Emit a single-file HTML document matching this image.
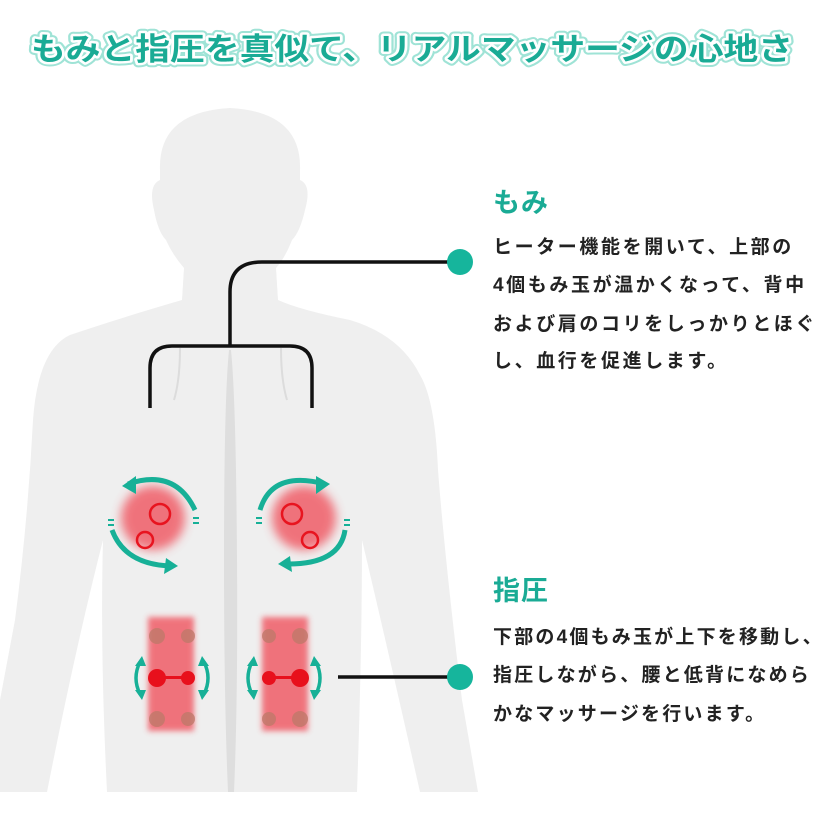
<!DOCTYPE html>
<html><head><meta charset="utf-8"><style>
html,body{margin:0;padding:0;background:#fff;}
svg{display:block;}
.t{font-family:"Liberation Sans","Noto Sans CJK JP",sans-serif;font-weight:bold;}
</style></head><body>
<svg width="824" height="814" viewBox="0 0 824 814" xmlns="http://www.w3.org/2000/svg">
<defs>
<filter id="b6" x="-50%" y="-50%" width="200%" height="200%"><feGaussianBlur stdDeviation="5"/></filter>
<filter id="b3" x="-50%" y="-50%" width="200%" height="200%"><feGaussianBlur stdDeviation="3"/></filter>
</defs>
<!-- title -->
<text class="t" x="412" y="60" text-anchor="middle" font-size="31" textLength="762" lengthAdjust="spacingAndGlyphs" fill="#7fd9c8" stroke="#9fe3d6" stroke-width="9" stroke-linejoin="round">もみと指圧を真似て、リアルマッサージの心地さ</text>
<text class="t" x="412" y="60" text-anchor="middle" font-size="31" textLength="762" lengthAdjust="spacingAndGlyphs" fill="#fff" stroke="#fff" stroke-width="5" stroke-linejoin="round">もみと指圧を真似て、リアルマッサージの心地さ</text>
<text class="t" x="412" y="60" text-anchor="middle" font-size="31" textLength="762" lengthAdjust="spacingAndGlyphs" fill="#1aab95">もみと指圧を真似て、リアルマッサージの心地さ</text>

<!-- body silhouette -->
<path fill="#efefef" d="M160 170 Q158 112 230 108 Q302 112 300 170 L300 180 Q312 185 305 210 Q300 232 292 240 Q285 258 276 268 L278 300 Q300 310 350 320 Q400 335 420 375 Q435 400 438 470 Q445 560 462 700 L478 792 L0 792 L0 700 L15 620 Q28 520 33 420 Q38 350 70 335 Q120 318 182 300 L184 268 Q172 254 166 240 Q158 232 154 210 Q148 185 160 180 Z"/>
<!-- arm gaps -->
<path d="M103 540 Q75 650 47 792 L107 792 Q100 650 103 540 Z" fill="#fff"/>
<path d="M362 540 Q388 650 420 792 L357 792 Q362 650 362 540 Z" fill="#fff"/>
<!-- spine -->
<path d="M229 350 Q224 400 224 560 Q224 700 228 792 L234 792 Q238 700 237 560 Q236 400 231 350 Z" fill="#dedede"/>
<!-- shoulder blade lines -->
<path d="M180 348 Q182 400 170 420 Q150 440 118 440" fill="none" stroke="#e0e0e0" stroke-width="2" opacity="0"/>
<path d="M180 348 Q180 380 174 400" fill="none" stroke="#dcdcdc" stroke-width="2"/>
<path d="M281 348 Q281 380 287 400" fill="none" stroke="#dcdcdc" stroke-width="2"/>

<!-- connectors -->
<g fill="none" stroke="#111" stroke-width="3.5">
<path d="M460 262 L262 262 Q230 262 230 292 L230 346"/>
<path d="M150 408 L150 368 Q150 346 172 346 L290 346 Q312 346 312 368 L312 408"/>
<path d="M338 677 L460 677"/>
</g>
<circle cx="460" cy="262" r="13" fill="#16b59c"/>
<circle cx="460" cy="677" r="13" fill="#16b59c"/>

<!-- upper massage heads -->
<circle cx="153" cy="518" r="32" fill="#f04a55" opacity="0.75" filter="url(#b6)"/>
<circle cx="304" cy="518" r="32" fill="#f04a55" opacity="0.75" filter="url(#b6)"/>
<g fill="none" stroke="#e8141f" stroke-width="2.5">
<circle cx="160" cy="514" r="10"/><circle cx="145" cy="540" r="8"/>
<circle cx="292" cy="514" r="10"/><circle cx="310" cy="540" r="8"/>
</g>
<g fill="none" stroke="#17b097" stroke-width="5">
<path d="M128 484 Q175 468 195 510"/>
<path d="M112 530 Q125 565 172 566"/>
<path d="M260 510 Q272 470 325 484"/>
<path d="M345 530 Q340 565 285 564"/>
</g>
<g fill="#17b097">
<polygon points="122,486 136,476 136,494"/>
<polygon points="178,566 166,558 164,574"/>
<polygon points="330,484 316,476 316,494"/>
<polygon points="278,564 290,556 292,572"/>
<rect x="193" y="517" width="6" height="2"/><rect x="193" y="522" width="6" height="2"/>
<rect x="108" y="519" width="6" height="2"/><rect x="108" y="524" width="6" height="2"/>
<rect x="256" y="517" width="6" height="2"/><rect x="256" y="522" width="6" height="2"/>
<rect x="344" y="519" width="6" height="2"/><rect x="344" y="524" width="6" height="2"/>
</g>

<!-- lower massage pads -->
<rect x="148" y="617" width="46" height="114" fill="#f04a55" opacity="0.75" filter="url(#b3)"/>
<rect x="262" y="617" width="46" height="114" fill="#f04a55" opacity="0.75" filter="url(#b3)"/>
<g fill="#c0796a" opacity="0.8">
<circle cx="157" cy="636" r="8"/><circle cx="188" cy="636" r="7"/>
<circle cx="157" cy="719" r="8"/><circle cx="188" cy="719" r="7"/>
<circle cx="269" cy="636" r="7"/><circle cx="300" cy="636" r="8"/>
<circle cx="269" cy="719" r="7"/><circle cx="300" cy="719" r="8"/>
</g>
<g fill="#e8101c">
<circle cx="157" cy="678" r="9"/><circle cx="188" cy="678" r="7"/><rect x="157" y="676" width="31" height="3"/>
<circle cx="269" cy="678" r="7"/><circle cx="300" cy="678" r="9"/><rect x="269" y="676" width="31" height="3"/>
</g>
<g fill="none" stroke="#17b097" stroke-width="3.5">
<path d="M140 662 Q132 678 140 694"/><path d="M204 662 Q212 678 204 694"/>
<path d="M252 662 Q244 678 252 694"/><path d="M316 662 Q324 678 316 694"/>
</g>
<g fill="#17b097">
<polygon points="142,656 135,666 146,666"/><polygon points="142,700 135,690 146,690"/>
<polygon points="202,656 209,666 198,666"/><polygon points="202,700 209,690 198,690"/>
<polygon points="254,656 247,666 258,666"/><polygon points="254,700 247,690 258,690"/>
<polygon points="314,656 321,666 310,666"/><polygon points="314,700 321,690 310,690"/>
</g>

<!-- right text -->
<text class="t" x="493" y="212" font-size="27" fill="#1aab95" letter-spacing="1">もみ</text>
<g class="t" font-size="19" fill="#222" letter-spacing="2.6">
<text x="493" y="253">ヒーター機能を開いて、上部の</text>
<text x="493" y="291">4個もみ玉が温かくなって、背中</text>
<text x="493" y="330">および肩のコリをしっかりとほぐ</text>
<text x="493" y="367">し、血行を促進します。</text>
</g>
<text class="t" x="493" y="600" font-size="27" fill="#1aab95" letter-spacing="1">指圧</text>
<g class="t" font-size="19" fill="#222" letter-spacing="2.2">
<text x="493" y="643">下部の4個もみ玉が上下を移動し、</text>
<text x="493" y="681">指圧しながら、腰と低背になめら</text>
<text x="493" y="720">かなマッサージを行います。</text>
</g>
</svg>
</body></html>
